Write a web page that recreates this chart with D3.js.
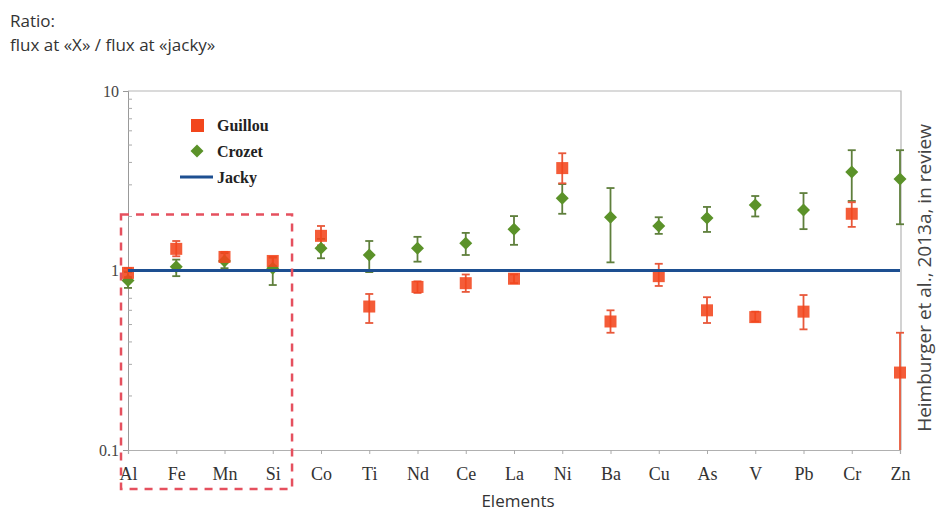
<!DOCTYPE html>
<html>
<head>
<meta charset="utf-8">
<script src="https://cdn.jsdelivr.net/npm/d3@7"></script>
<style>
  body { margin: 0; background: #fff; }
  svg { display: block; }
</style>
</head>
<body>
<div id="chart"></div>
<script>
const elements = ["Al", "Fe", "Mn", "Si", "Co", "Ti", "Nd", "Ce", "La", "Ni", "Ba", "Cu", "As", "V", "Pb", "Cr", "Zn"];

// Guillou ratio, with lower / upper error bounds
const guillou = [0.97, 1.32, 1.19, 1.13, 1.56, 0.63, 0.81, 0.85, 0.90, 3.72, 0.52, 0.93, 0.60, 0.55, 0.59, 2.07, 0.27];
const guillouLo = [0.92, 1.20, 1.12, 1.06, 1.38, 0.51, 0.75, 0.76, 0.85, 3.06, 0.45, 0.82, 0.51, 0.52, 0.47, 1.75, 0.1];
const guillouHi = [1.03, 1.46, 1.27, 1.19, 1.77, 0.74, 0.87, 0.95, 0.95, 4.5, 0.60, 1.09, 0.71, 0.59, 0.73, 2.4, 0.45];

// Crozet ratio, with lower / upper error bounds
const crozet = [0.88, 1.05, 1.13, 1.03, 1.33, 1.22, 1.33, 1.42, 1.70, 2.53, 1.98, 1.77, 1.96, 2.32, 2.17, 3.54, 3.23];
const crozetLo = [0.80, 0.93, 1.03, 0.83, 1.17, 0.98, 1.12, 1.22, 1.39, 2.07, 1.11, 1.60, 1.64, 2.00, 1.70, 2.44, 1.81];
const crozetHi = [0.98, 1.15, 1.25, 1.18, 1.50, 1.46, 1.54, 1.62, 2.01, 3.03, 2.88, 1.98, 2.26, 2.60, 2.70, 4.68, 4.68];

const jacky = 1;
const yTicks = [0.1, 1, 10];
const boxed = ["Al", "Si"];

const W = 937, H = 511;
const mLeft = 128, mRight = 900, mTop = 91, mBottom = 450;
const red = "#f2461c", redBar = "#e8583a";
const green = "#5b9229", greenBar = "#5f7f3c";
const serif = "'Liberation Serif', 'DejaVu Serif', serif";
const sans = "'Open Sans', 'Noto Sans', sans-serif";

const svg = d3.select("#chart").append("svg").attr("width", W).attr("height", H);

const x = d3.scalePoint().domain(elements).range([mLeft, mRight]);
const y = d3.scaleLog().domain([0.1, 10]).range([mBottom, mTop]);

// frame
svg.append("path")
  .attr("d", `M${mLeft},${mTop}H${mRight + 1}V${mBottom}`)
  .attr("fill", "none").attr("stroke", "#b5b5b5").attr("stroke-width", 1.2);

// left axis
const yAxis = svg.append("g").attr("transform", `translate(${mLeft},0)`)
  .call(d3.axisLeft(y).tickValues(yTicks).tickFormat(d3.format("")).tickSize(5));
yAxis.select(".domain").attr("stroke", "#999");
yAxis.selectAll(".tick line").attr("stroke", "#999");
yAxis.selectAll("text")
  .style("font-family", serif)
  .style("font-size", "16px").attr("fill", "#444").attr("x", -9);

// minor ticks on the log axis
const minor = y.ticks().filter(d => !yTicks.includes(d));
svg.append("g").selectAll("line").data(minor).join("line")
  .attr("x1", mLeft).attr("x2", mLeft + 4)
  .attr("y1", d => y(d)).attr("y2", d => y(d))
  .attr("stroke", "#aaa");

// bottom axis
const xAxis = svg.append("g").attr("transform", `translate(0,${mBottom})`)
  .call(d3.axisBottom(x).tickSize(4).tickPadding(13));
xAxis.select(".domain").attr("stroke", "#b0b0b0").attr("stroke-width", 1.2);
xAxis.selectAll(".tick line").attr("stroke", "#aaa");
xAxis.selectAll("text")
  .style("font-family", serif)
  .style("font-size", "18px").attr("fill", "#333");

// error bars
function errorBars(lo, hi, color, width) {
  const g = svg.append("g").attr("stroke", color).attr("stroke-width", width);
  g.selectAll(".v").data(elements).join("line")
    .attr("x1", d => x(d)).attr("x2", d => x(d))
    .attr("y1", (d, i) => y(lo[i])).attr("y2", (d, i) => y(hi[i]));
  g.selectAll(".t").data(elements).join("line")
    .attr("x1", d => x(d) - 4).attr("x2", d => x(d) + 4)
    .attr("y1", (d, i) => y(hi[i])).attr("y2", (d, i) => y(hi[i]));
  g.selectAll(".b").data(elements.filter((d, i) => lo[i] > 0.1)).join("line")
    .attr("x1", d => x(d) - 4).attr("x2", d => x(d) + 4)
    .attr("y1", d => y(lo[elements.indexOf(d)])).attr("y2", d => y(lo[elements.indexOf(d)]));
}

errorBars(crozetLo, crozetHi, greenBar, 1.8);
errorBars(guillouLo, guillouHi, redBar, 1.8);

// square-ish diamond marker
const diamond = "M0,-6.5L6.5,0L0,6.5L-6.5,0Z";
svg.append("g").selectAll("path").data(elements).join("path")
  .attr("d", diamond)
  .attr("transform", (d, i) => `translate(${x(d)},${y(crozet[i])})`)
  .attr("fill", green);

svg.append("g").selectAll("rect").data(elements).join("rect")
  .attr("x", d => x(d) - 6).attr("y", (d, i) => y(guillou[i]) - 6)
  .attr("width", 12).attr("height", 12)
  .attr("fill", red).attr("opacity", 0.88);

// Jacky reference line
svg.append("line")
  .attr("x1", mLeft).attr("x2", mRight)
  .attr("y1", y(jacky)).attr("y2", y(jacky))
  .attr("stroke", "#1d4f91").attr("stroke-width", 3);

// dashed box around Al..Si
const step = x.step();
svg.append("rect")
  .attr("x", x(boxed[0]) - 7).attr("y", y(2.05))
  .attr("width", x(boxed[1]) - x(boxed[0]) + step * 0.4 + 7)
  .attr("height", 489 - y(2.05))
  .attr("fill", "none").attr("stroke", "#e5505e").attr("stroke-width", 2.5)
  .attr("stroke-dasharray", "8,7");

// legend
const lg = svg.append("g")
  .style("font-family", serif)
  .style("font-weight", "bold").style("font-size", "16px").attr("fill", "#222");
lg.append("rect").attr("x", 191).attr("y", 119).attr("width", 13).attr("height", 13).attr("fill", red);
lg.append("text").attr("x", 217).attr("y", 131).text("Guillou");
lg.append("path").attr("d", diamond).attr("transform", "translate(197,151)").attr("fill", green);
lg.append("text").attr("x", 217).attr("y", 157).text("Crozet");
lg.append("line").attr("x1", 180).attr("x2", 213).attr("y1", 177).attr("y2", 177)
  .attr("stroke", "#1d4f91").attr("stroke-width", 3);
lg.append("text").attr("x", 217).attr("y", 183).text("Jacky");

// titles
svg.append("text").attr("x", 10).attr("y", 27).text("Ratio:")
  .style("font-family", sans).style("font-size", "17px").attr("fill", "#333");
svg.append("text").attr("x", 10).attr("y", 51).text("flux at «X» / flux at «jacky»")
  .style("font-family", sans).style("font-size", "17px").attr("fill", "#333");
svg.append("text").attr("x", (mLeft + mRight) / 2 + 4).attr("y", 507).attr("text-anchor", "middle")
  .text("Elements").style("font-family", sans).style("font-size", "17px").attr("fill", "#333");
svg.append("text")
  .attr("transform", `translate(931,278) rotate(-90)`)
  .attr("text-anchor", "middle")
  .text("Heimburger et al., 2013a, in review")
  .style("font-family", sans).style("font-size", "19px").attr("fill", "#444");
</script>
</body>
</html>
